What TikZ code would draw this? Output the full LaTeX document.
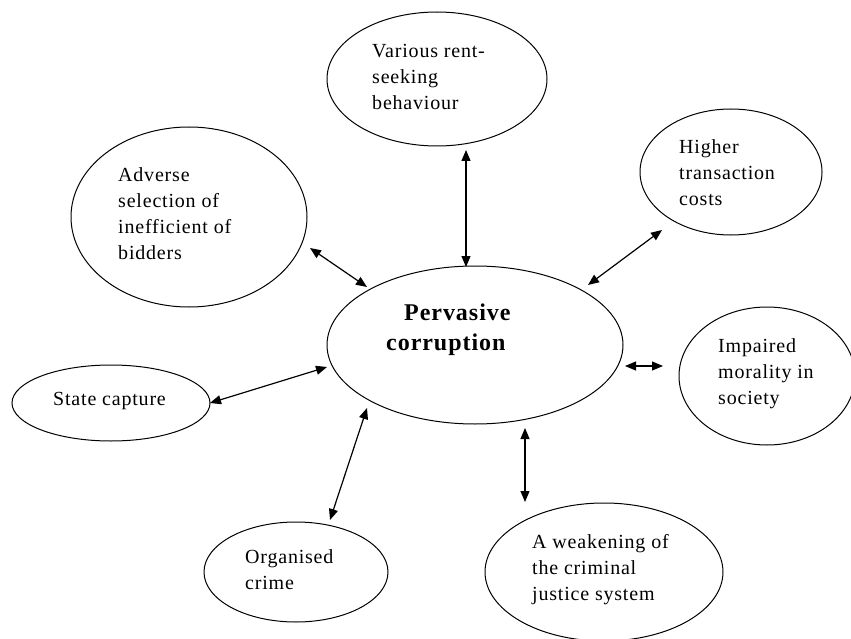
\documentclass[tikz,border=0pt]{standalone}
\usepackage{fontspec}
\setmainfont{Liberation Serif}[LetterSpace=4]
\usetikzlibrary{shapes.geometric,arrows.meta}
% stacked, left-aligned lines whose first baseline is the node's base
\newcommand{\bubbletext}[1]{\begin{tabular}[t]{@{}l@{}}#1\end{tabular}}
\begin{document}
\begin{tikzpicture}[x=1pt,y=-1pt,
  bubble/.style={draw,ellipse,line width=1pt,inner sep=0pt},
  lbl/.style={anchor=base west,inner sep=0pt,font=\fontsize{20}{26}\selectfont},
  title/.style={anchor=base west,inner sep=0pt,font=\fontsize{24}{30}\selectfont\bfseries},
  tip/.tip={Triangle[length=11pt,width=9pt]},
  link/.style={tip-tip,line width=1.2pt}]
\clip (0,0) rectangle (851,639);
\fill[white] (0,0) rectangle (851,639);

% ellipses
\node[bubble,minimum width=296pt,minimum height=158pt] (core) at (475,345) {};
\node[bubble,minimum width=220pt,minimum height=134pt] (rent) at (437,79) {};
\node[bubble,minimum width=182pt,minimum height=126pt] (higher) at (731,172) {};
\node[bubble,minimum width=236pt,minimum height=180pt] (adverse) at (189,217) {};
\node[bubble,minimum width=176pt,minimum height=138pt] (impaired) at (767,376) {};
\node[bubble,minimum width=198pt,minimum height=76pt] (state) at (111,403) {};
\node[bubble,minimum width=184pt,minimum height=100pt] (organised) at (296,572) {};
\node[bubble,minimum width=238pt,minimum height=138pt] (weakening) at (604,572) {};

% texts
\node[title] (core-1) at (404,320) {Pervasive};
\node[title] (core-2) at (386,350) {corruption};
\node[lbl] (rent-t) at (372,58) {\bubbletext{Various rent-\\seeking\\behaviour}};
\node[lbl] (higher-t) at (679,154) {\bubbletext{Higher\\transaction\\costs}};
\node[lbl] (adverse-t) at (118,182) {\bubbletext{Adverse\\selection of\\inefficient of\\bidders}};
\node[lbl] (impaired-t) at (718,352) {\bubbletext{Impaired\\morality in\\society}};
\node[lbl] (state-t) at (53,405) {State capture};
\node[lbl] (organised-t) at (245,563) {\bubbletext{Organised\\crime}};
\node[lbl] (weakening-t) at (532,548) {\bubbletext{A weakening of\\the criminal\\justice system}};

% connector ends
\coordinate (rent-e) at (466,150);      \coordinate (core-rent) at (466,267);
\coordinate (higher-e) at (662,230);    \coordinate (core-higher) at (588,285);
\coordinate (adverse-e) at (310,248);   \coordinate (core-adverse) at (367,287);
\coordinate (impaired-e) at (663,366);  \coordinate (core-impaired) at (625,366);
\coordinate (state-e) at (210,403);     \coordinate (core-state) at (327,367);
\coordinate (organised-e) at (330,520); \coordinate (core-organised) at (367,408);
\coordinate (weakening-e) at (525,502); \coordinate (core-weakening) at (525,428);

% connectors
\draw[link] (rent-e) -- (core-rent);
\draw[link] (higher-e) -- (core-higher);
\draw[link] (adverse-e) -- (core-adverse);
\draw[link] (impaired-e) -- (core-impaired);
\draw[link] (state-e) -- (core-state);
\draw[link] (organised-e) -- (core-organised);
\draw[link] (weakening-e) -- (core-weakening);
\end{tikzpicture}
\end{document}
